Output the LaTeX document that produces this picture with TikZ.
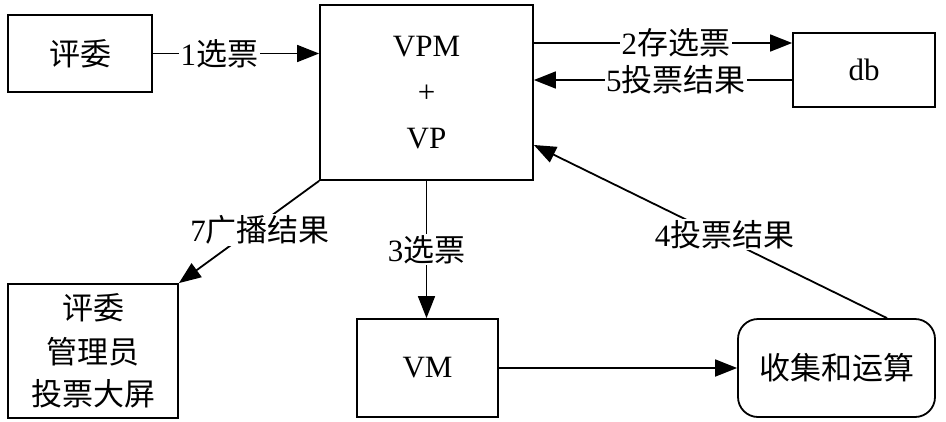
\documentclass[tikz,border=0pt]{standalone}
\usepackage{fontspec}
\setmainfont{Liberation Serif}
\newfontfamily\cjk{Noto Sans CJK SC}
\usetikzlibrary{arrows.meta}
\begin{document}
\begin{tikzpicture}[x=1pt,y=-1pt,
  font=\fontsize{31}{46}\selectfont,
  box/.style={draw, line width=1.8pt, inner sep=0pt, align=center},
  arr/.style={line width=1.8pt, -{Triangle[length=22pt,width=17pt]}},
  lbl/.style={fill=white, inner sep=1.5pt}]
\useasboundingbox (0,0) rectangle (946,421);
\node[box, minimum width=144pt, minimum height=77pt] (pw) at (80,53.5) {{\cjk 评委}};
\node[box, minimum width=213pt, minimum height=175pt] (vp) at (426.5,92.5) {VPM\\+\\VP};
\node[box, minimum width=142pt, minimum height=74pt] (db) at (864,70) {db};
\node[box, minimum width=170pt, minimum height=134pt] (scr) at (93,351) {{\cjk 评委}\\[-2pt]{\cjk 管理员}\\[-4pt]{\cjk 投票大屏}};
\node[box, minimum width=141pt, minimum height=98pt] (vm) at (427.5,368) {VM};
\node[box, minimum width=197pt, minimum height=98pt, rounded corners=20pt] (calc) at (836.5,368) {{\cjk 收集和运算}};
\coordinate (a2) at ([yshift=27pt]db.west);
\coordinate (a5) at ([yshift=-10pt]db.west);
\coordinate (a4s) at ([xshift=50.5pt]calc.north);
\coordinate (a4e) at ([yshift=-52.5pt]vp.east);
\draw[arr] (pw.east) -- (vp.west |- pw.east) node[lbl, pos=0.4] {1{\cjk 选票}};
\draw[arr] (vp.east |- a2) -- (a2) node[lbl, pos=0.55] {2{\cjk 存选票}};
\draw[arr] (a5) -- (vp.east |- a5) node[lbl, pos=0.45] {5{\cjk 投票结果}};
\draw[arr] (vp.south) -- (vp.south |- vm.north) node[lbl, midway] {3{\cjk 选票}};
\draw[arr] (vp.south west) -- (scr.north east) node[lbl, pos=0.42, yshift=-6pt] {7{\cjk 广播结果}};
\draw[arr] (vm.east) -- (calc.west);
\draw[arr] (a4s) -- (a4e) node[lbl, pos=0.46, yshift=4pt] {4{\cjk 投票结果}};
\end{tikzpicture}
\end{document}
